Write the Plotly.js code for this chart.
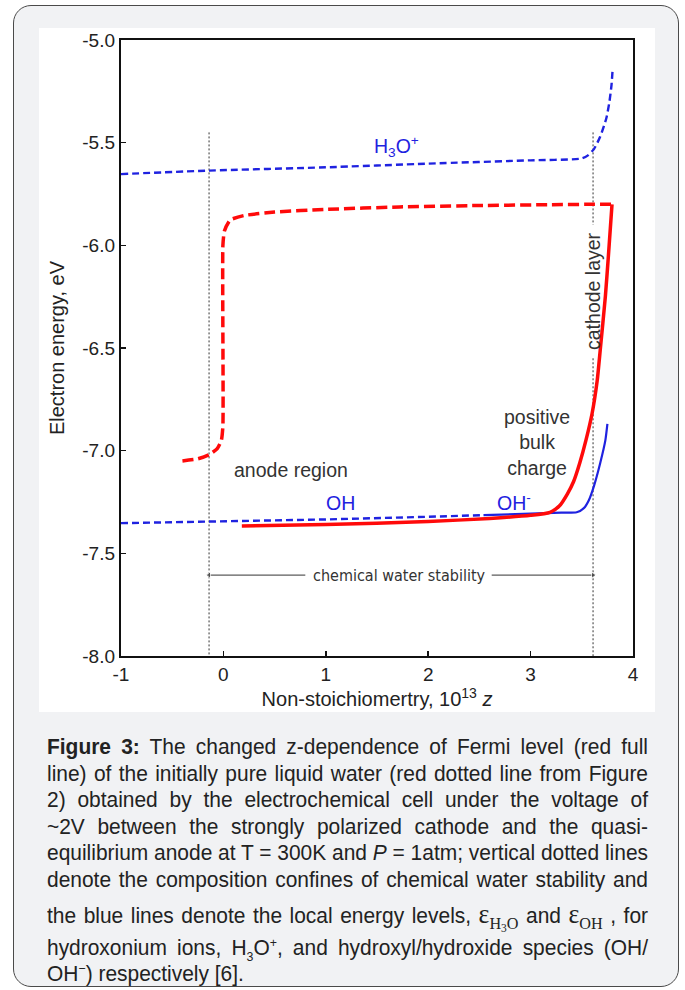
<!DOCTYPE html>
<html>
<head>
<meta charset="utf-8">
<script src="https://cdn.plot.ly/plotly-3.0.1.min.js"></script>
<style>
  html, body { margin: 0; padding: 0; background: #ffffff; }
  body { width: 685px; height: 990px; position: relative; overflow: hidden; font-family: "Liberation Sans", Arial, sans-serif; }
  #card { position: absolute; left: 13px; top: 5px; width: 666px; height: 982px; background: #f1f2f4; border: 1.5px solid #4a4a4a; border-radius: 18px; box-sizing: border-box; }
  #white { position: absolute; left: 39px; top: 28px; width: 616px; height: 684px; background: #ffffff; }
  #plot { position: absolute; left: 0; top: 0; width: 685px; height: 720px; }
  #caption { position: absolute; left: 47px; top: 734px; width: 601px; color: #222; font-family: "Liberation Sans", Arial, sans-serif; font-size: 22px; }
  .ln { height: 26.6px; line-height: 26.6px; white-space: nowrap; overflow: visible; }
  .ln span.in { display: inline-block; transform-origin: left center; }
  .ln.tall { height: 36px; line-height: 40px; }
  .eps { font-family: "Liberation Serif", "Times New Roman", serif; font-size: 27px; }
  .sub { font-family: "Liberation Serif", "Times New Roman", serif; font-size: 17px; position: relative; top: 6px; }
  .sub2 { font-size: 12px; position: relative; top: 3px; }
</style>
</head>
<body>
<div id="card"></div>
<div id="white"></div>
<div id="plot"></div>
<div id="caption">
  <div class="ln"><span class="in"><b>Figure 3:</b> The changed z-dependence of Fermi level (red full</span></div>
  <div class="ln"><span class="in">line) of the initially pure liquid water (red dotted line from Figure</span></div>
  <div class="ln"><span class="in">2) obtained by the electrochemical cell under the voltage of</span></div>
  <div class="ln"><span class="in">~2V between the strongly polarized cathode and the quasi-</span></div>
  <div class="ln"><span class="in">equilibrium anode at T = 300K and <i>P</i> = 1atm; vertical dotted lines</span></div>
  <div class="ln"><span class="in">denote the composition confines of chemical water stability and</span></div>
  <div class="ln tall"><span class="in">the blue lines denote the local energy levels, <span class="eps">ε</span><span class="sub">H<span class="sub2">3</span>O</span> and <span class="eps">ε</span><span class="sub">OH</span> , for</span></div>
  <div class="ln"><span class="in">hydroxonium ions, H<sub style="font-size:13px">3</sub>O<sup style="font-size:13px">+</sup>, and hydroxyl/hydroxide species (OH/</span></div>
  <div class="ln last"><span class="in">OH<sup style="font-size:13px">−</sup>) respectively [6].</span></div>
</div>
<script>
// ---- data ----
const zH3O = [-1.0, -0.14, 1.0, 2.0, 3.0, 3.50, 3.56, 3.62, 3.68, 3.74, 3.77, 3.79, 3.80];
const eH3O = [-5.653, -5.636, -5.620, -5.602, -5.586, -5.577, -5.562, -5.530, -5.470, -5.380, -5.300, -5.220, -5.150];

const zOH = [-1.0, -0.14, 1.0, 2.0, 2.54];
const eOH = [-7.353, -7.345, -7.335, -7.322, -7.314];

const zOHm = [2.54, 3.0, 3.3, 3.45, 3.52, 3.57, 3.62, 3.68, 3.73, 3.75];
const eOHm = [-7.314, -7.307, -7.302, -7.300, -7.280, -7.240, -7.170, -7.060, -6.950, -6.870];

const zRedDash = [-0.40, -0.25, -0.14, -0.06, -0.02, -0.005, -0.005, 0.01, 0.065, 0.2, 0.5, 1.0, 1.72, 2.5, 3.2, 3.61, 3.795];
const eRedDash = [-7.05, -7.04, -7.02, -6.99, -6.95, -6.88, -6.00, -5.93, -5.877, -5.855, -5.838, -5.825, -5.813, -5.806, -5.802, -5.800, -5.800];

const zRed = [0.18, 1.0, 2.0, 2.6, 3.0, 3.19, 3.28, 3.36, 3.42, 3.48, 3.54, 3.60, 3.65, 3.68, 3.73, 3.76, 3.795];
const eRed = [-7.367, -7.360, -7.345, -7.330, -7.315, -7.300, -7.270, -7.210, -7.150, -7.060, -6.950, -6.820, -6.660, -6.510, -6.250, -6.050, -5.800];

// composition confines of chemical water stability
const zBounds = [-0.14, 3.61];
const eBoundTop = -5.45;
const eBoundBottom = -8.0;
// gap in the right confine line where the "cathode layer" label sits
const eLabelGap = [-5.90, -6.55];
// stability arrow
const eArrow = -7.606;
const zArrowTails = [0.80, 2.62];

const xTicks = [-1, 0, 1, 2, 3, 4];
const yTicks = [-8.0, -7.5, -7.0, -6.5, -6.0, -5.5, -5.0];

// ---- traces ----
const BLUE = '#1f22e0';
const RED = '#ff0a0a';
const DOT = { color: '#333', width: 1, dash: '2px,2px' };
const traces = [];
traces.push({ x: [zBounds[0], zBounds[0]], y: [eBoundTop, eBoundBottom], mode: 'lines', line: DOT });
traces.push({ x: [zBounds[1], zBounds[1], null, zBounds[1], zBounds[1]], y: [eBoundTop, eLabelGap[0], null, eLabelGap[1], eBoundBottom], mode: 'lines', line: DOT, connectgaps: false });
traces.push({ x: zH3O, y: eH3O, mode: 'lines', line: { color: BLUE, width: 2.4, dash: '7px,4px', shape: 'spline', smoothing: 0.6 } });
traces.push({ x: zOH, y: eOH, mode: 'lines', line: { color: BLUE, width: 2.4, dash: '7px,4px' } });
traces.push({ x: zOHm, y: eOHm, mode: 'lines', line: { color: BLUE, width: 2.2, shape: 'spline', smoothing: 0.6 } });
traces.push({ x: zRedDash, y: eRedDash, mode: 'lines', line: { color: RED, width: 3.5, dash: '11px,5px', shape: 'spline', smoothing: 0.5 } });
traces.push({ x: zRed, y: eRed, mode: 'lines', line: { color: RED, width: 3.5, shape: 'spline', smoothing: 0.6 } });
// arrows of the stability range
traces.push({ x: [zArrowTails[0], zBounds[0]], y: [eArrow, eArrow], mode: 'lines+markers', line: { color: '#333', width: 1 },
  marker: { symbol: ['circle', 'triangle-left'], size: [0, 6], color: '#333' } });
traces.push({ x: [zArrowTails[1], zBounds[1]], y: [eArrow, eArrow], mode: 'lines+markers', line: { color: '#333', width: 1 },
  marker: { symbol: ['circle', 'triangle-right'], size: [0, 6], color: '#333' } });

const TXT = '#333333';
const layout = {
  width: 685, height: 720,
  margin: { l: 121, r: 52, t: 40, b: 64 },
  paper_bgcolor: 'rgba(0,0,0,0)',
  plot_bgcolor: '#ffffff',
  showlegend: false,
  font: { family: '"Liberation Sans", Arial, sans-serif', color: '#222', size: 19 },
  xaxis: {
    range: [-1, 4], tickvals: xTicks, ticktext: xTicks.map(String),
    showline: true, mirror: true, linecolor: '#111', linewidth: 2.2,
    ticks: 'inside', ticklen: 5, tickwidth: 1.5, tickcolor: '#111',
    showgrid: false, zeroline: false,
    tickfont: { size: 19, color: '#222' },
    title: { text: 'Non-stoichiomertry, 10<sup>13</sup> <i>z</i>', font: { size: 20, color: '#222' }, standoff: 6 }
  },
  yaxis: {
    range: [-8, -5], tickvals: yTicks, ticktext: yTicks.map(function (v) { return v.toFixed(1); }),
    showline: true, mirror: true, linecolor: '#111', linewidth: 2.2,
    ticks: 'inside', ticklen: 5, tickwidth: 1.5, tickcolor: '#111',
    showgrid: false, zeroline: false,
    tickfont: { size: 19, color: '#222' },
    title: { text: 'Electron energy, eV', font: { size: 20, color: '#222' }, standoff: 12 }
  },
  annotations: [
    { x: 1.69, y: -5.521, xref: 'x', yref: 'y', text: 'H<sub>3</sub>O<sup>+</sup>', showarrow: false, font: { size: 19.5, color: BLUE } },
    { x: 1.14, y: -7.255, xref: 'x', yref: 'y', text: 'OH', showarrow: false, font: { size: 19.5, color: BLUE } },
    { x: 2.84, y: -7.25, xref: 'x', yref: 'y', text: 'OH<sup>-</sup>', showarrow: false, font: { size: 19.5, color: BLUE } },
    { x: 0.66, y: -7.095, xref: 'x', yref: 'y', text: 'anode region', showarrow: false, font: { size: 19.5, color: TXT } },
    { x: 3.06, y: -6.96, xref: 'x', yref: 'y', text: 'positive<br>bulk<br>charge', showarrow: false, font: { size: 19.5, color: TXT } },
    { x: zBounds[1], y: -6.222, xref: 'x', yref: 'y', text: 'cathode layer', textangle: -90, showarrow: false, font: { size: 19.5, color: TXT } },
    { x: 1.715, y: eArrow, xref: 'x', yref: 'y', text: 'chemical water stability', showarrow: false, font: { size: 16, color: TXT, family: '"Liberation Sans Narrow", "Arial Narrow", "DejaVu Sans Condensed", sans-serif' } }
  ]
};

Plotly.newPlot('plot', traces, layout, { staticPlot: true, displayModeBar: false });

// ---- caption: condensed, justified lines ----
function fitCaption() {
  const W = 601;
  const lines = Array.prototype.slice.call(document.querySelectorAll('#caption .ln'));
  const spans = lines.map(function (ln) { const s = ln.querySelector('span.in'); s.style.transform = ''; s.style.wordSpacing = ''; return s; });
  const widths = spans.map(function (s) { return s.getBoundingClientRect().width; });
  let k = 1;
  lines.forEach(function (ln, i) { if (!ln.classList.contains('last')) k = Math.min(k, W / widths[i]); });
  lines.forEach(function (ln, i) {
    const span = spans[i];
    if (!ln.classList.contains('last')) {
      const gaps = (span.textContent.match(/ /g) || []).length;
      if (gaps > 0) span.style.wordSpacing = ((W / k - widths[i]) / gaps) + 'px';
    }
    span.style.transform = 'scaleX(' + k + ')';
  });
}
fitCaption();
if (document.fonts && document.fonts.ready) { document.fonts.ready.then(fitCaption); }
</script>
</body>
</html>
